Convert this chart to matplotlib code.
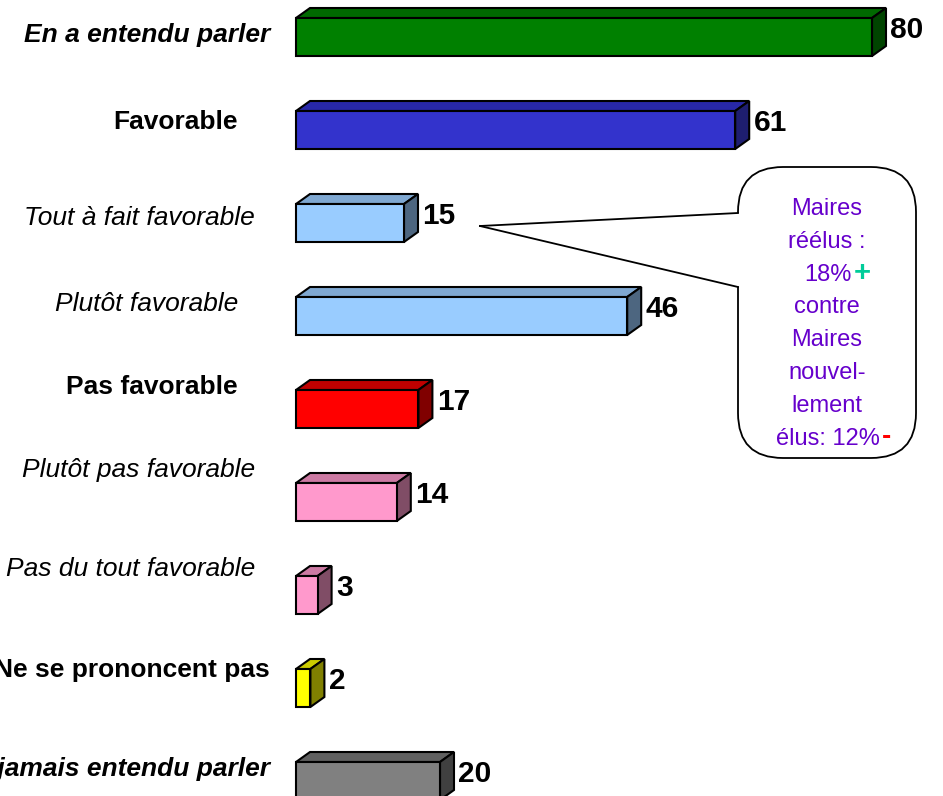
import matplotlib
matplotlib.use("Agg")
import matplotlib.pyplot as plt
from matplotlib import font_manager
from matplotlib.patches import FancyBboxPatch, Polygon

plt.rcParams['font.family'] = ['Liberation Sans', 'DejaVu Sans']

# data
labels = ["En a entendu parler", "Favorable", "Tout à fait favorable", "Plutôt favorable",
          "Pas favorable", "Plutôt pas favorable", "Pas du tout favorable",
          "Ne se prononcent pas", "N'en a jamais entendu parler"]
values = [80, 61, 15, 46, 17, 14, 3, 2, 20]
weights = ["bold", "bold", "normal", "normal", "bold", "normal", "normal", "bold", "bold"]
styles = ["italic", "normal", "italic", "italic", "normal", "italic", "italic", "normal", "italic"]
front_cols = ["#008000", "#3333CC", "#99CCFF", "#99CCFF", "#FF0000", "#FF99CC", "#FF99CC", "#FFFF00", "#808080"]
top_cols = ["#006A00", "#2828A8", "#7FA8D2", "#7FA8D2", "#C00000", "#CC7AA3", "#CC7AA3", "#CCCC00", "#606060"]
side_cols = ["#004400", "#1E1E70", "#4D6680", "#4D6680", "#800000", "#804D66", "#804D66", "#808000", "#404040"]

# label anchor (right edge px, baseline px)
label_x = [270, 238, 255, 238, 238, 255, 255, 270, 270]
label_y = [42, 129, 225, 311, 394, 477, 576, 677, 776]

fig = plt.figure(figsize=(9.43, 7.96), dpi=100)

# main axes: value units / category index
ax = fig.add_axes([0, 0, 1, 1])
px_per_unit = 7.2
x0 = 296
row = 93.0
ax.set_xlim(-x0 / px_per_unit, (943 - x0) / px_per_unit)
ax.set_ylim((796 - 37) / row, -37 / row)
ax.axis("off")

h = 38 / row
dx = 14 / px_per_unit
dy = 10 / row

names = [f.name for f in font_manager.fontManager.ttflist]
narrow = 'Liberation Sans Narrow' in names
num_family = ['Liberation Sans Narrow'] if narrow else ['Liberation Sans']
num_size = 23 if narrow else 21.5

for i, v in enumerate(values):
    top = i - h / 2
    bot = i + h / 2
    ax.fill([0, v, v + dx, dx], [top, top, top - dy, top - dy],
            facecolor=top_cols[i], edgecolor="black", linewidth=1.5, zorder=2)
    ax.fill([v, v + dx, v + dx, v], [top, top - dy, bot - dy, bot],
            facecolor=side_cols[i], edgecolor="black", linewidth=1.5, zorder=2)
    ax.barh(i, v, height=h, left=0, color=front_cols[i], edgecolor="black",
            linewidth=1.5, zorder=3)
    ax.text(v + dx + 0.6, i - 0.07, str(v), ha="left", va="center",
            fontsize=num_size, fontweight="bold", family=num_family, zorder=4)

# overlay axes in pixel units for text and callout
ov = fig.add_axes([0, 0, 1, 1])
ov.set_xlim(0, 943)
ov.set_ylim(796, 0)
ov.axis("off")
ov.patch.set_alpha(0)

for i, lab in enumerate(labels):
    ov.text(label_x[i], label_y[i], lab, ha="right", va="baseline", fontsize=19,
            fontweight=weights[i], fontstyle=styles[i], color="black")

# callout
box = FancyBboxPatch((738, 167), 178, 291, boxstyle="round,pad=0,rounding_size=45",
                     facecolor="white", edgecolor="black", linewidth=1.3, zorder=5)
ov.add_patch(box)
apex = (480, 226)
ov.add_patch(Polygon([apex, (741, 213), (741, 287)], closed=True, facecolor="white",
                     edgecolor="none", zorder=6))
ov.plot([apex[0], 738], [apex[1], 213], color="black", lw=1.3, zorder=7)
ov.plot([apex[0], 738], [apex[1], 287], color="black", lw=1.3, zorder=7)

purple = "#6600CC"
call_lines = ["Maires", "réélus :", None, "contre", "Maires", "nouvel-", "lement", None]
base = 215
step = 32.8
for k, t in enumerate(call_lines):
    if t is not None:
        ov.text(827, base + k * step, t, ha="center", va="baseline", fontsize=17,
                color=purple, zorder=8)
ov.text(852, base + 2 * step, "18%", ha="right", va="baseline", fontsize=17,
        color=purple, zorder=8)
ov.text(854, base + 2 * step, "+", ha="left", va="baseline", fontsize=21,
        fontweight="bold", color="#00CC99", zorder=8)
ov.text(880, base + 7 * step, "élus: 12%", ha="right", va="baseline", fontsize=17,
        color=purple, zorder=8)
ov.text(882, base + 7 * step - 1, "-", ha="left", va="baseline", fontsize=20,
        fontweight="bold", color="#FF0000", zorder=8)

fig.savefig("out.png", dpi=100)
